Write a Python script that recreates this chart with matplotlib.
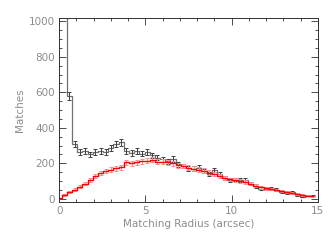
import numpy as np
import matplotlib
matplotlib.use('Agg')
import matplotlib.pyplot as plt
from matplotlib.ticker import MultipleLocator

# bin centres (arcsec)
radius = [0.0, 0.3, 0.6, 0.9, 1.2, 1.5, 1.8, 2.1, 2.4, 2.7,
          3.0, 3.3, 3.6, 3.9, 4.2, 4.5, 4.8, 5.1, 5.4, 5.7,
          6.0, 6.3, 6.6, 6.9, 7.2, 7.5, 7.8, 8.1, 8.4, 8.7,
          9.0, 9.3, 9.6, 9.9, 10.2, 10.5, 10.8, 11.1, 11.4, 11.7,
          12.0, 12.3, 12.6, 12.9, 13.2, 13.5, 13.8, 14.1, 14.4, 14.7]

matches_all = [1500, 1500, 580, 310, 265, 268, 250, 262, 272, 262,
               285, 310, 318, 272, 260, 268, 255, 262, 245, 232,
               222, 212, 225, 195, 185, 172, 170, 175, 155, 140,
               162, 140, 115, 105, 108, 105, 105, 85, 72, 58,
               55, 58, 52, 38, 35, 40, 22, 12, 18, 18]
err_all = [0, 0, 24, 18, 16, 16, 16, 16, 17, 16,
           17, 18, 18, 17, 16, 16, 16, 16, 16, 15,
           15, 15, 15, 14, 14, 13, 13, 13, 12, 12,
           13, 12, 11, 10, 10, 10, 10, 9, 9, 8,
           7, 8, 7, 6, 6, 6, 5, 4, 4, 4]

matches_rand = [5, 22, 38, 52, 68, 85, 105, 128, 145, 155,
                165, 172, 178, 205, 200, 205, 212, 215, 220, 210,
                208, 205, 200, 190, 185, 175, 170, 165, 158, 148,
                140, 130, 120, 110, 105, 100, 95, 85, 75, 65,
                60, 55, 50, 42, 38, 32, 28, 22, 18, 15]
err_rand = [2, 5, 6, 7, 8, 9, 10, 11, 12, 12,
            13, 13, 13, 14, 14, 14, 15, 15, 15, 14,
            14, 14, 14, 14, 14, 13, 13, 13, 13, 12,
            12, 11, 11, 10, 10, 10, 10, 9, 9, 8,
            8, 7, 7, 6, 6, 6, 5, 5, 4, 4]

fig = plt.figure(figsize=(3.36, 2.4), dpi=100)
ax = fig.add_axes([0.176, 0.158, 0.77, 0.767])

grey = '#8c8c8c'
ax.step(radius, matches_all, where='mid', color='#707070', lw=0.9)
ax.errorbar(radius[2:], matches_all[2:], yerr=err_all[2:], fmt='none',
            ecolor='#404040', elinewidth=0.7, capsize=1.5, capthick=0.7)
ax.errorbar(radius, matches_rand, yerr=err_rand, fmt='none',
            ecolor='#ff8c8c', elinewidth=0.7, capsize=1.5, capthick=0.7)
ax.step(radius, matches_rand, where='mid', color='#ff0000', lw=1.0)

ax.set_xlim(0, 15)
ax.set_ylim(-18, 1018)
ax.xaxis.set_major_locator(MultipleLocator(5))
ax.xaxis.set_minor_locator(MultipleLocator(1))
ax.yaxis.set_major_locator(MultipleLocator(200))
ax.yaxis.set_minor_locator(MultipleLocator(50))
ax.tick_params(which='both', direction='in', top=True, right=True,
               color='#303030', width=0.6, labelsize=7.5, labelcolor=grey)
ax.tick_params(which='major', length=5, pad=3)
ax.tick_params(which='minor', length=2.5)
for s in ax.spines.values():
    s.set_color('#303030')
    s.set_linewidth(0.7)

ax.set_xlabel('Matching Radius (arcsec)', fontsize=7.5, color=grey, labelpad=2)
ax.set_ylabel('Matches', fontsize=7.5, color=grey, labelpad=3)

fig.savefig('out.png', dpi=100)
